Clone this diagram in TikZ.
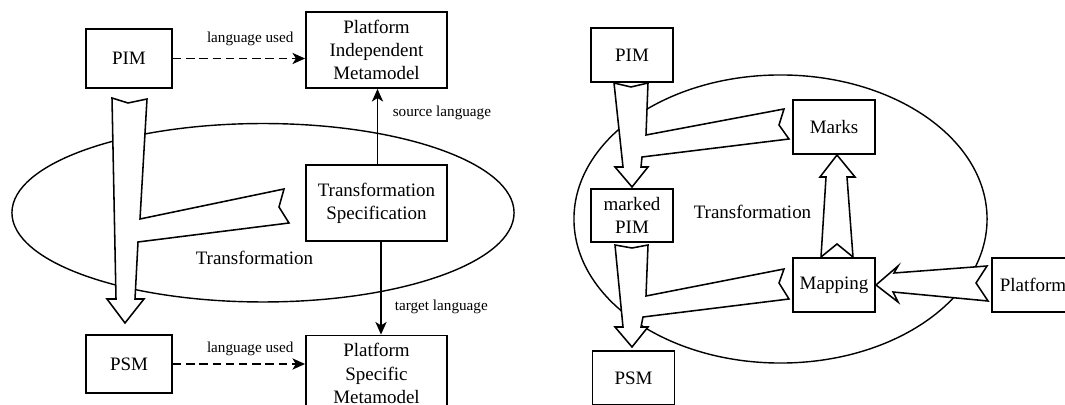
\documentclass[tikz,border=0pt]{standalone}
\usepackage{fontspec}
\setmainfont{Liberation Serif}
\usetikzlibrary{arrows.meta}

\begin{document}
\begin{tikzpicture}[x=0.025cm, y=-0.025cm,
  mbox/.style={draw, line width=1.3pt, fill=white, align=center,
    font=\fontsize{13.5}{16.5}\selectfont, inner sep=2pt},
  modelbox/.style={mbox, minimum width=2.15cm, minimum height=1.46cm},
  metabox/.style={mbox, minimum width=3.525cm, minimum height=1.9cm},
  rbox/.style={mbox, minimum width=2.05cm, minimum height=1.34cm},
  lbl/.style={font=\fontsize{10.8}{12}\selectfont},
  usedarr/.style={-{Stealth[length=9pt, width=8pt, inset=2.5pt]},
    line width=1.1pt, dash pattern=on 6pt off 3.4pt},
  langarr/.style={-{Stealth[length=9pt, width=8pt, inset=2.5pt]},
    line width=1.1pt},
  fatarr/.style={draw, fill=white, line width=1.1pt, line join=miter},
  trans/.style={draw, line width=1pt}]
\useasboundingbox (0,0) rectangle (1065,405);

%%% Left picture
% Transformation ellipse
\draw[trans] (263,212.75) ellipse [x radius=6.275cm, y radius=2.23cm];
% Fat arrow PIM -> PSM, fed by the specification
\draw[fatarr] (112,98) -- (128,103) -- (147,99) -- (140,219)
  -- (284,189) -- (279,207) -- (289,223) -- (138,242) -- (135,299)
  -- (144,299) -- (125,323) -- (107,299) -- (116,299) -- cycle;
% Nodes
\node[modelbox] (pimA) at (129,58.5) {PIM};
\node[metabox] (pimmA) at (376.5,50)
  {Platform\\Independent\\Metamodel};
\node[metabox] (tsA) at (376.5,203)
  {Transformation\\Specification};
\node[modelbox] (psmA) at (129,364) {PSM};
\node[metabox] (psmmA) at (376.5,373.5)
  {Platform\\Specific\\Metamodel};
\node[font=\fontsize{13.5}{16.5}\selectfont] (transA) at (254.5,258)
  {Transformation};
% Arrows with labels
\draw[usedarr] (pimA.east) -- (pimA.east -| pimmA.west)
  node[lbl, pos=0.585, above=5pt] {language used};
\draw[usedarr] (psmA.east) -- (psmA.east -| psmmA.west)
  node[lbl, pos=0.585, above=2pt] {language used};
\draw[langarr] ([xshift=0.7pt]tsA.north) -- ([xshift=0.7pt]pimmA.south)
  node[lbl, pos=0.675, right=7pt] {source language};
\draw[langarr] ([xshift=3.2pt]tsA.south) -- ([xshift=3.2pt]psmmA.north)
  node[lbl, pos=0.7, right=6pt] {target language};

%%% Right picture
% Transformation ellipse
\draw[trans] (780.5,219) ellipse [x radius=5.1625cm, y radius=3.6cm];
% Fat arrows
\draw[fatarr] (614,83) -- (631,87) -- (648,83) -- (646,135)
  -- (784,109) -- (779,125) -- (789,139) -- (642,157) -- (641,167)
  -- (648,167) -- (632,187) -- (615,167) -- (623,167) -- cycle;
\draw[fatarr] (615,245) -- (632,248) -- (648,245) -- (646,296)
  -- (784,269) -- (779,283) -- (789,299) -- (643,317) -- (641,327)
  -- (648,327) -- (632,347) -- (615,327) -- (623,327) -- cycle;
\draw[fatarr] (821,257) -- (837,244) -- (853,257) -- (847,177)
  -- (855,177) -- (837,155) -- (820,177) -- (826,177) -- cycle;
\draw[fatarr] (987,266) -- (976,283) -- (988,301) -- (893,292)
  -- (898,302) -- (876,285) -- (898,266) -- (894,273) -- cycle;
% Nodes
\node[rbox] (pimB) at (632,55) {PIM};
\node[rbox] (mpimB) at (632,215.5) {marked\\PIM};
\node[rbox] (psmB) at (633.5,378) {PSM};
\node[rbox] (marksB) at (834,127) {Marks};
\node[rbox] (mapB) at (834,285) {Mapping};
\node[rbox] (platB) at (1033,285) {Platform};
\node[font=\fontsize{13.5}{16.5}\selectfont] (transB) at (752.5,212)
  {Transformation};
\end{tikzpicture}
\end{document}
